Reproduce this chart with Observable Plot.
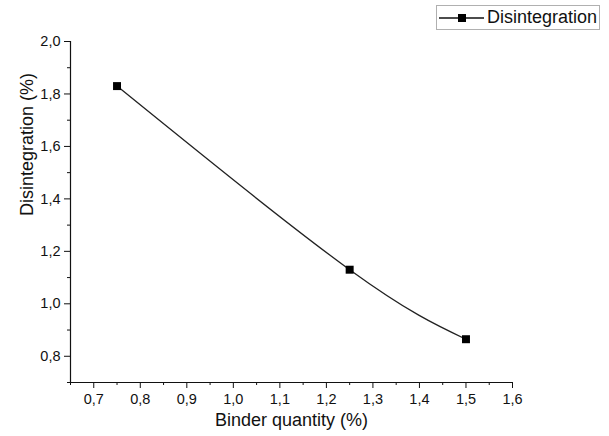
<!DOCTYPE html>
<html>
<head>
<meta charset="utf-8">
<script src="https://cdn.jsdelivr.net/npm/d3@7"></script>
<script src="https://cdn.jsdelivr.net/npm/@observablehq/plot@0.6"></script>
<style>
  html, body { margin: 0; padding: 0; background: #fff; }
  #wrap { position: relative; width: 609px; height: 436px; font-family: "Liberation Sans", Arial, sans-serif; }
  #legend { position: absolute; left: 436px; top: 5px; width: 162px; height: 23px; border: 1px solid #b0b0b0; background: #fff;
            display: flex; align-items: center; font-size: 18px; color: #111; box-sizing: content-box; }
  #legend svg { display: block; margin-left: 2px; margin-right: 3px; }
</style>
</head>
<body>
<div id="wrap">
  <div id="chart"></div>
  <div id="legend"><svg width="45" height="12"><line x1="0" y1="6" x2="45" y2="6" stroke="#111" stroke-width="1.3"/><rect x="19" y="2" width="8" height="8" fill="#000"/></svg><span>Disintegration</span></div>
</div>
<script>
const binder = [0.75, 1.25, 1.5];
const disintegration = [1.83, 1.13, 0.865];
const seriesName = "Disintegration";
const xLabel = "Binder quantity (%)";
const yLabel = "Disintegration (%)";
const xTicks = [0.7, 0.8, 0.9, 1.0, 1.1, 1.2, 1.3, 1.4, 1.5, 1.6];
const xMinor = [0.65, 0.75, 0.85, 0.95, 1.05, 1.15, 1.25, 1.35, 1.45, 1.55];
const yTicks = [0.8, 1.0, 1.2, 1.4, 1.6, 1.8, 2.0];
const yMinor = [0.7, 0.9, 1.1, 1.3, 1.5, 1.7, 1.9];

const data = binder.map((x, i) => ({x, y: disintegration[i], s: seriesName}));
const fmt = d => d.toFixed(1).replace(".", ",");

const chart = Plot.plot({
  width: 609,
  height: 436,
  marginLeft: 70,
  marginRight: 97,
  marginTop: 41,
  marginBottom: 54,
  style: {fontFamily: "'Liberation Sans', Arial, sans-serif", color: "#111", background: "#fff"},
  x: {domain: [0.65, 1.6]},
  y: {domain: [0.7, 2.0]},
  marks: [
    Plot.ruleX([0.65], {stroke: "#111", strokeWidth: 1.2}),
    Plot.ruleY([0.7], {stroke: "#111", strokeWidth: 1.2}),
    Plot.axisX(xTicks, {tickSize: 6, tickPadding: 5, tickFormat: fmt, fontSize: 14.5, label: null}),
    Plot.axisX(xMinor, {tickSize: 3, fill: "none", label: null}),
    Plot.axisY(yTicks, {tickSize: 6, tickPadding: 4, tickFormat: fmt, fontSize: 14.5, label: null}),
    Plot.axisY(yMinor, {tickSize: 3, fill: "none", label: null}),
    Plot.text([xLabel], {frameAnchor: "bottom", dy: 43, fontSize: 18, fill: "#111"}),
    Plot.text([yLabel], {frameAnchor: "left", dx: -43, dy: 4, rotate: -90, fontSize: 18, fill: "#111"}),
    Plot.line(data, {x: "x", y: "y", curve: "natural", stroke: "#222", strokeWidth: 1.3}),
    Plot.dot(data, {x: "x", y: "y", symbol: "square", r: 4.5, fill: "#000", stroke: "none"})
  ]
});
document.getElementById("chart").appendChild(chart);
</script>
</body>
</html>
